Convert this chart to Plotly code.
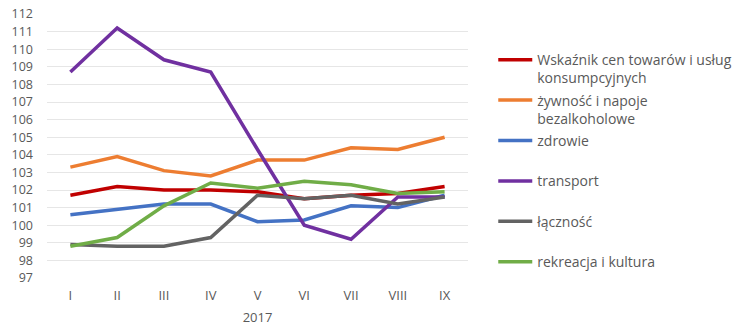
import plotly.graph_objects as go

months = ["I", "II", "III", "IV", "V", "VI", "VII", "VIII", "IX"]
series_names = [
    "Wskaźnik cen towarów i usług<br>konsumpcyjnych",
    "żywność i napoje<br>bezalkoholowe",
    "zdrowie<br> ",
    "transport<br> ",
    "łączność<br> ",
    "rekreacja i kultura",
]
cpi = [101.7, 102.2, 102.0, 102.0, 101.9, 101.5, 101.7, 101.8, 102.2]
food = [103.3, 103.9, 103.1, 102.8, 103.7, 103.7, 104.4, 104.3, 105.0]
health = [100.6, 100.9, 101.2, 101.2, 100.2, 100.3, 101.1, 101.0, 101.7]
transport = [108.7, 111.2, 109.4, 108.7, 104.3, 100.0, 99.2, 101.6, 101.6]
communication = [98.9, 98.8, 98.8, 99.3, 101.7, 101.5, 101.7, 101.2, 101.6]
recreation = [98.8, 99.3, 101.1, 102.4, 102.1, 102.5, 102.3, 101.8, 101.9]
colors = ["#C00000", "#ED7D31", "#4472C4", "#7030A0", "#636363", "#70AD47"]
y_ticks = list(range(97, 113))
grid_ticks = list(range(98, 113))
x_title = "2017"

values = [cpi, food, health, transport, communication, recreation]

fig = go.Figure()
for i, (name, vals, col) in enumerate(zip(series_names, values, colors)):
    fig.add_trace(go.Scatter(
        x=months, y=vals, name=name, mode="lines",
        line=dict(color=col, width=3.5),
        legendgroup=f"g{i}",
    ))

# invisible trace to drive the grid axis
fig.add_trace(go.Scatter(x=months, y=[None] * len(months), yaxis="y2",
                         showlegend=False, hoverinfo="skip"))

font_family = "'Open Sans', Lato, sans-serif"
text_color = "#595959"

fig.update_layout(
    width=743, height=326,
    margin=dict(l=47, r=275, t=14, b=48, autoexpand=False),
    paper_bgcolor="white", plot_bgcolor="white",
    font=dict(family=font_family, color=text_color, size=13),
    xaxis=dict(
        type="category", range=[-0.5, 8.5], automargin=False,
        showgrid=False, showline=False, zeroline=False, ticks="",
        tickfont=dict(size=13, color=text_color),
        ticklabelstandoff=8,
        title=dict(text=x_title, font=dict(size=13, color=text_color), standoff=10),
    ),
    yaxis=dict(
        range=[97, 112], tickvals=y_ticks, automargin=False,
        showgrid=False, zeroline=False, showline=False, ticks="",
        tickfont=dict(size=12.5, color=text_color),
        ticklabelstandoff=13,
    ),
    yaxis2=dict(
        overlaying="y", range=[97, 112], tickvals=grid_ticks, automargin=False,
        showgrid=True, gridcolor="#E6E6E6", gridwidth=1,
        showticklabels=False, zeroline=False, showline=False, ticks="",
    ),
    legend=dict(
        x=1.06, xanchor="left", y=0.886, yanchor="top",
        font=dict(size=14, color=text_color, family=font_family),
        valign="top", tracegroupgap=1, itemwidth=34, bgcolor="rgba(0,0,0,0)",
    ),
    showlegend=True,
)

fig.write_html("out.html")
